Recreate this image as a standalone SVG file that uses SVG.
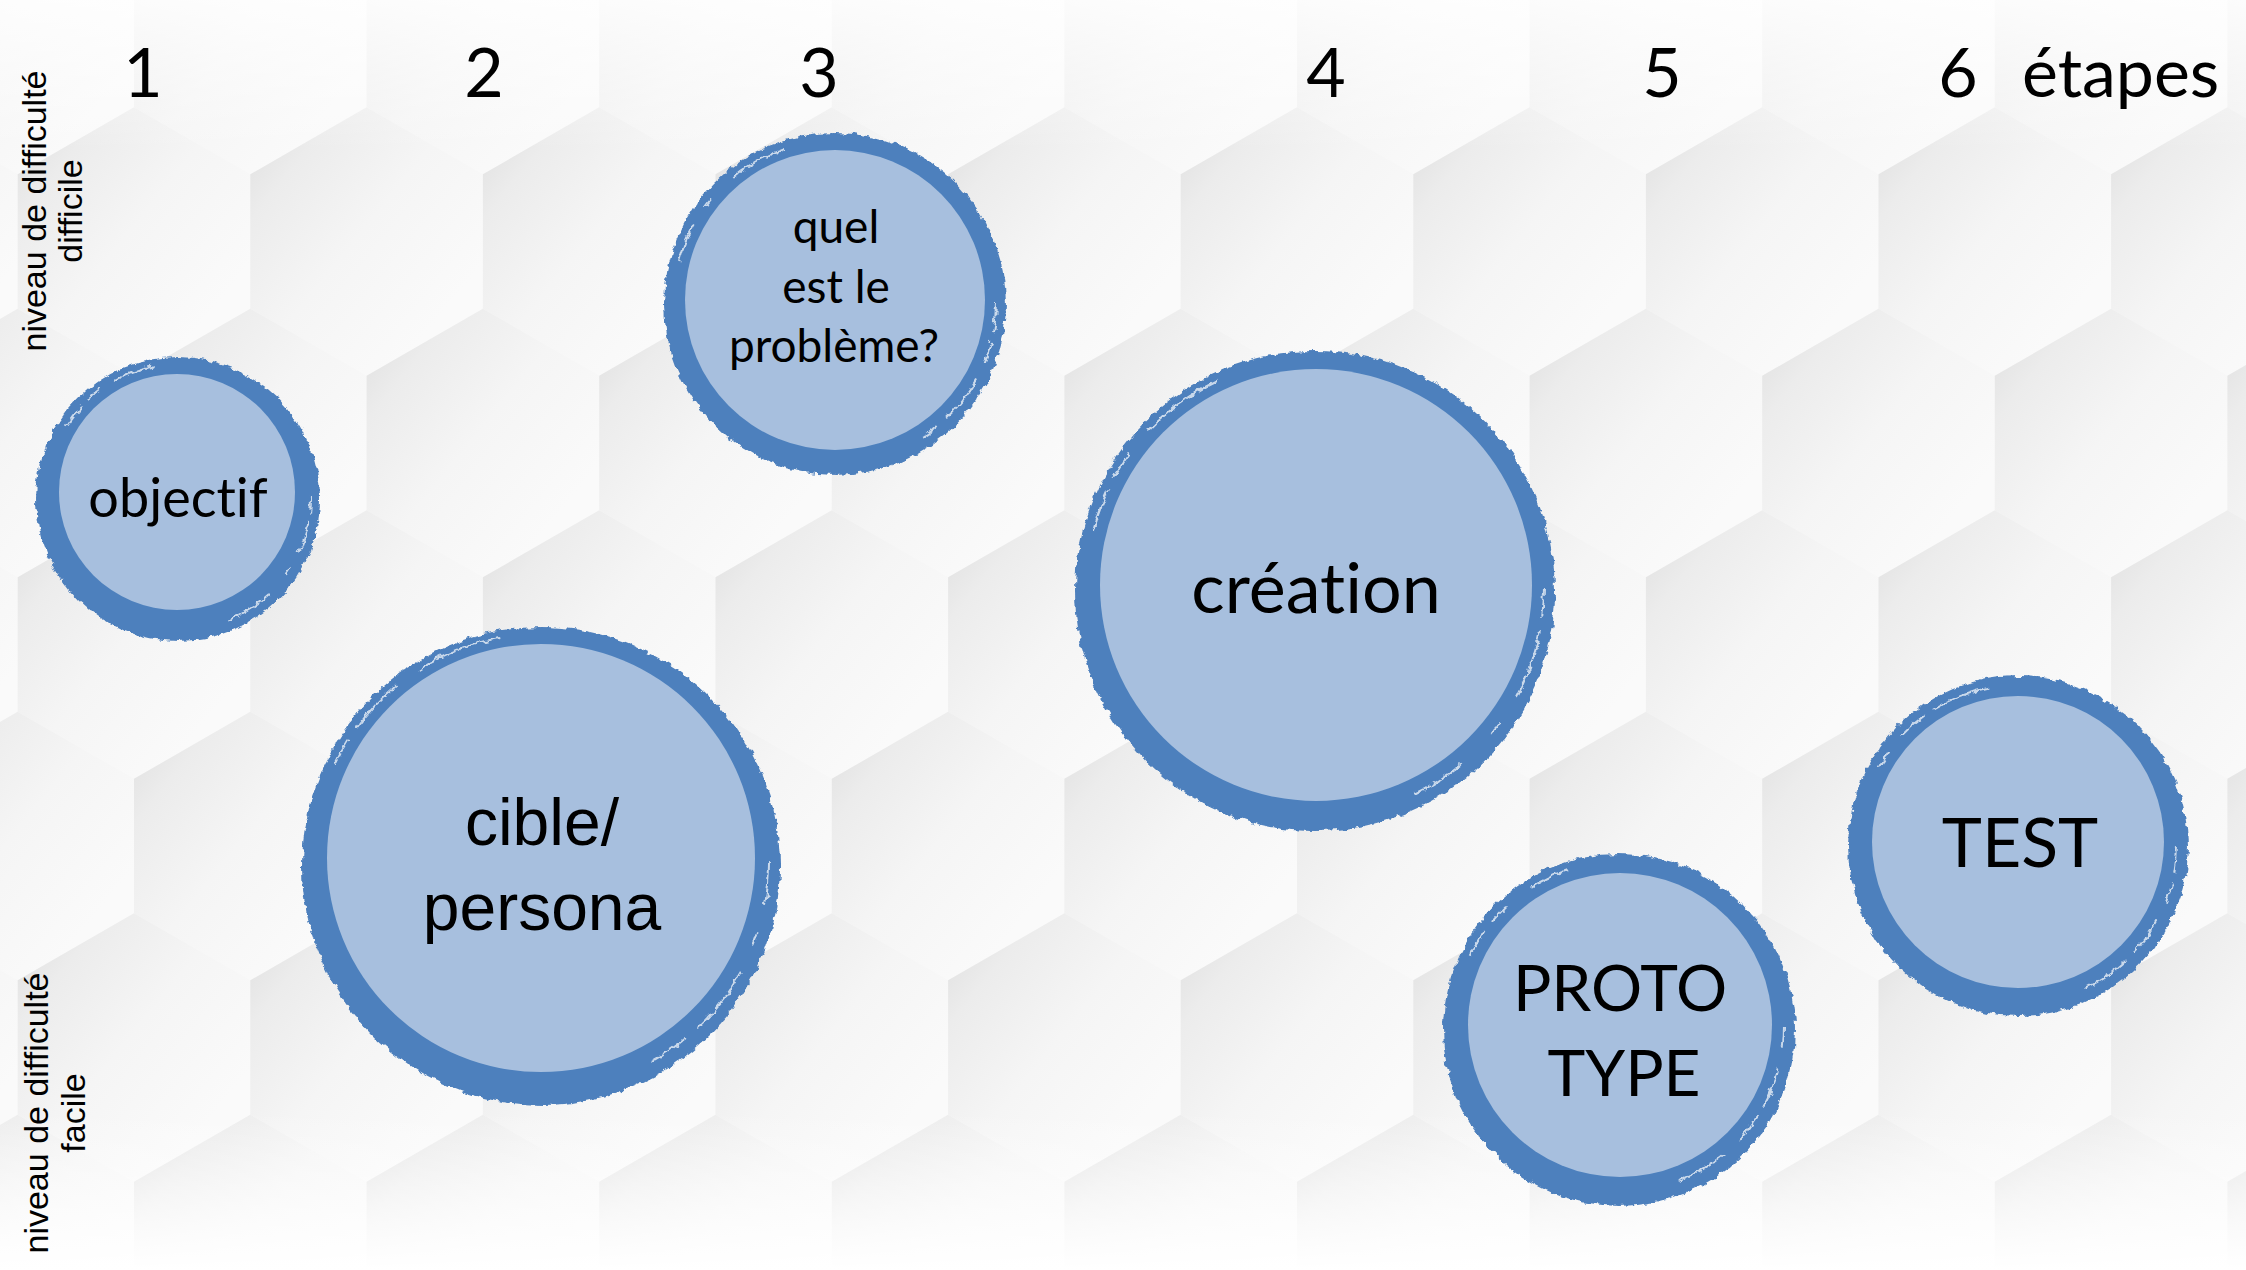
<svg xmlns="http://www.w3.org/2000/svg" xmlns:xlink="http://www.w3.org/1999/xlink" width="2246" height="1270" viewBox="0 0 2246 1270">
<defs>
<style>
.num{font-family:Lato,"Open Sans","Liberation Sans",sans-serif;font-size:68px;fill:#000;text-anchor:middle}
.vlab{font-family:"Liberation Sans",Arial,sans-serif;font-size:34px;fill:#000;text-anchor:middle}
.lbl{font-family:Lato,"Open Sans","Liberation Sans",sans-serif;fill:#000;text-anchor:middle;font-variant-ligatures:none}
.lbl2{font-family:"Liberation Sans",Arial,sans-serif;fill:#000;text-anchor:middle}
.ring{fill:#4E80BD}
.inner{fill:#A7BFDE}
.streak{fill:none;stroke:#ffffff;stroke-opacity:0.7;stroke-width:2}
.hx{fill:url(#hg)}
</style>
<linearGradient id="hg" x1="0" y1="0.15" x2="0.75" y2="0.85">
<stop offset="0" stop-color="#e2e2e2"/>
<stop offset="0.18" stop-color="#ececec"/>
<stop offset="0.55" stop-color="#f5f5f5"/>
<stop offset="1" stop-color="#fafafa"/>
</linearGradient>
<linearGradient id="topfade" x1="0" y1="0" x2="0" y2="1">
<stop offset="0" stop-color="#ffffff" stop-opacity="0.85"/>
<stop offset="1" stop-color="#ffffff" stop-opacity="0"/>
</linearGradient>
<linearGradient id="botfade" x1="0" y1="0" x2="0" y2="1">
<stop offset="0" stop-color="#ffffff" stop-opacity="0"/>
<stop offset="1" stop-color="#ffffff" stop-opacity="1"/>
</linearGradient>
<path id="hex" d="M0,-134.3 L116.3,-67.15 L116.3,67.15 L0,134.3 L-116.3,67.15 L-116.3,-67.15Z"/>
<filter id="rough" x="-8%" y="-8%" width="116%" height="116%">
<feTurbulence type="fractalNoise" baseFrequency="0.12" numOctaves="3" seed="7" result="n"/>
<feDisplacementMap in="SourceGraphic" in2="n" scale="7" xChannelSelector="R" yChannelSelector="G"/>
</filter>
</defs>

<g id="background">
<rect x="0" y="0" width="2246" height="1270" fill="#f8f8f8"/>
<g id="hexgrid">
<use xlink:href="#hex" class="hx" x="17.7" y="40"/><use xlink:href="#hex" class="hx" x="250.3" y="40"/><use xlink:href="#hex" class="hx" x="482.9" y="40"/><use xlink:href="#hex" class="hx" x="715.5" y="40"/><use xlink:href="#hex" class="hx" x="948.1" y="40"/><use xlink:href="#hex" class="hx" x="1180.7" y="40"/><use xlink:href="#hex" class="hx" x="1413.3" y="40"/><use xlink:href="#hex" class="hx" x="1645.9" y="40"/><use xlink:href="#hex" class="hx" x="1878.5" y="40"/><use xlink:href="#hex" class="hx" x="2111.1" y="40"/><use xlink:href="#hex" class="hx" x="2343.7" y="40"/>
<use xlink:href="#hex" class="hx" x="-98.6" y="241.5"/><use xlink:href="#hex" class="hx" x="134" y="241.5"/><use xlink:href="#hex" class="hx" x="366.6" y="241.5"/><use xlink:href="#hex" class="hx" x="599.2" y="241.5"/><use xlink:href="#hex" class="hx" x="831.8" y="241.5"/><use xlink:href="#hex" class="hx" x="1064.4" y="241.5"/><use xlink:href="#hex" class="hx" x="1297" y="241.5"/><use xlink:href="#hex" class="hx" x="1529.6" y="241.5"/><use xlink:href="#hex" class="hx" x="1762.2" y="241.5"/><use xlink:href="#hex" class="hx" x="1994.8" y="241.5"/><use xlink:href="#hex" class="hx" x="2227.4" y="241.5"/>
<use xlink:href="#hex" class="hx" x="17.7" y="443"/><use xlink:href="#hex" class="hx" x="250.3" y="443"/><use xlink:href="#hex" class="hx" x="482.9" y="443"/><use xlink:href="#hex" class="hx" x="715.5" y="443"/><use xlink:href="#hex" class="hx" x="948.1" y="443"/><use xlink:href="#hex" class="hx" x="1180.7" y="443"/><use xlink:href="#hex" class="hx" x="1413.3" y="443"/><use xlink:href="#hex" class="hx" x="1645.9" y="443"/><use xlink:href="#hex" class="hx" x="1878.5" y="443"/><use xlink:href="#hex" class="hx" x="2111.1" y="443"/><use xlink:href="#hex" class="hx" x="2343.7" y="443"/>
<use xlink:href="#hex" class="hx" x="-98.6" y="644.5"/><use xlink:href="#hex" class="hx" x="134" y="644.5"/><use xlink:href="#hex" class="hx" x="366.6" y="644.5"/><use xlink:href="#hex" class="hx" x="599.2" y="644.5"/><use xlink:href="#hex" class="hx" x="831.8" y="644.5"/><use xlink:href="#hex" class="hx" x="1064.4" y="644.5"/><use xlink:href="#hex" class="hx" x="1297" y="644.5"/><use xlink:href="#hex" class="hx" x="1529.6" y="644.5"/><use xlink:href="#hex" class="hx" x="1762.2" y="644.5"/><use xlink:href="#hex" class="hx" x="1994.8" y="644.5"/><use xlink:href="#hex" class="hx" x="2227.4" y="644.5"/>
<use xlink:href="#hex" class="hx" x="17.7" y="846"/><use xlink:href="#hex" class="hx" x="250.3" y="846"/><use xlink:href="#hex" class="hx" x="482.9" y="846"/><use xlink:href="#hex" class="hx" x="715.5" y="846"/><use xlink:href="#hex" class="hx" x="948.1" y="846"/><use xlink:href="#hex" class="hx" x="1180.7" y="846"/><use xlink:href="#hex" class="hx" x="1413.3" y="846"/><use xlink:href="#hex" class="hx" x="1645.9" y="846"/><use xlink:href="#hex" class="hx" x="1878.5" y="846"/><use xlink:href="#hex" class="hx" x="2111.1" y="846"/><use xlink:href="#hex" class="hx" x="2343.7" y="846"/>
<use xlink:href="#hex" class="hx" x="-98.6" y="1047.5"/><use xlink:href="#hex" class="hx" x="134" y="1047.5"/><use xlink:href="#hex" class="hx" x="366.6" y="1047.5"/><use xlink:href="#hex" class="hx" x="599.2" y="1047.5"/><use xlink:href="#hex" class="hx" x="831.8" y="1047.5"/><use xlink:href="#hex" class="hx" x="1064.4" y="1047.5"/><use xlink:href="#hex" class="hx" x="1297" y="1047.5"/><use xlink:href="#hex" class="hx" x="1529.6" y="1047.5"/><use xlink:href="#hex" class="hx" x="1762.2" y="1047.5"/><use xlink:href="#hex" class="hx" x="1994.8" y="1047.5"/><use xlink:href="#hex" class="hx" x="2227.4" y="1047.5"/>
<use xlink:href="#hex" class="hx" x="17.7" y="1249"/><use xlink:href="#hex" class="hx" x="250.3" y="1249"/><use xlink:href="#hex" class="hx" x="482.9" y="1249"/><use xlink:href="#hex" class="hx" x="715.5" y="1249"/><use xlink:href="#hex" class="hx" x="948.1" y="1249"/><use xlink:href="#hex" class="hx" x="1180.7" y="1249"/><use xlink:href="#hex" class="hx" x="1413.3" y="1249"/><use xlink:href="#hex" class="hx" x="1645.9" y="1249"/><use xlink:href="#hex" class="hx" x="1878.5" y="1249"/><use xlink:href="#hex" class="hx" x="2111.1" y="1249"/><use xlink:href="#hex" class="hx" x="2343.7" y="1249"/>
</g>
<rect x="0" y="0" width="2246" height="150" fill="url(#topfade)"/>
<rect x="0" y="1110" width="2246" height="160" fill="url(#botfade)"/>
</g>

<g id="axis-labels">
<text class="num" x="143" y="97">1</text>
<text class="num" x="484" y="97">2</text>
<text class="num" x="819" y="97">3</text>
<text class="num" x="1326" y="97">4</text>
<text class="num" x="1662" y="97">5</text>
<text class="num" x="1958" y="97">6</text>
<text class="num" x="2022" y="97" style="text-anchor:start">étapes</text>
<text class="vlab" transform="translate(46,211) rotate(-90)">niveau de difficulté</text>
<text class="vlab" transform="translate(82,211) rotate(-90)">difficile</text>
<text class="vlab" transform="translate(48,1113) rotate(-90)">niveau de difficulté</text>
<text class="vlab" transform="translate(85,1113) rotate(-90)">facile</text>
</g>

<g id="node-objectif">
<circle class="ring" cx="178" cy="499" r="142" filter="url(#rough)"/>
<circle class="streak" cx="178" cy="497" r="133" pathLength="100" stroke-dasharray="2 1 4 2 1 3 6 40 3 1 2 2 5 28" filter="url(#rough)"/>
<circle class="inner" cx="177" cy="492" r="118"/>
<text class="lbl" x="178" y="517" font-size="54">objectif</text>
</g>

<g id="node-probleme">
<circle class="ring" cx="835" cy="304" r="171" filter="url(#rough)"/>
<circle class="streak" cx="835" cy="302" r="161" pathLength="100" stroke-dasharray="3 1 2 2 5 1 2 38 4 2 1 3 6 30" filter="url(#rough)"/>
<circle class="inner" cx="835" cy="300" r="150"/>
<text class="lbl" font-size="46" x="836" y="243">quel</text>
<text class="lbl" font-size="46" x="836" y="303">est le</text>
<text class="lbl" font-size="46" x="834" y="362">problème?</text>
</g>

<g id="node-creation">
<circle class="ring" cx="1315" cy="591" r="240" filter="url(#rough)"/>
<circle class="streak" cx="1315" cy="588" r="229" pathLength="100" stroke-dasharray="2 1 5 2 1 3 4 36 3 1 2 2 6 32" filter="url(#rough)"/>
<circle class="inner" cx="1316" cy="585" r="216"/>
<text class="lbl" font-size="70" x="1316" y="613">création</text>
</g>

<g id="node-cible">
<circle class="ring" cx="541" cy="866" r="239" filter="url(#rough)"/>
<circle class="streak" cx="541" cy="862" r="228" pathLength="100" stroke-dasharray="3 2 1 2 5 1 3 40 2 1 4 2 6 28" filter="url(#rough)"/>
<circle class="inner" cx="541" cy="858" r="214"/>
<text class="lbl2" font-size="66" x="542" y="845">cible/</text>
<text class="lbl2" font-size="66" x="542" y="930">persona</text>
</g>

<g id="node-prototype">
<circle class="ring" cx="1619" cy="1030" r="176" filter="url(#rough)"/>
<circle class="streak" cx="1619" cy="1027" r="165" pathLength="100" stroke-dasharray="2 2 4 1 3 2 5 38 3 1 2 3 4 30" filter="url(#rough)"/>
<circle class="inner" cx="1620" cy="1025" r="152"/>
<text class="lbl" font-size="64" x="1620" y="1011">PROTO</text>
<text class="lbl" font-size="64" x="1624" y="1096">TYPE</text>
</g>

<g id="node-test">
<circle class="ring" cx="2018" cy="846" r="170" filter="url(#rough)"/>
<circle class="streak" cx="2018" cy="844" r="159" pathLength="100" stroke-dasharray="3 1 2 2 4 1 5 40 2 2 3 1 6 28" filter="url(#rough)"/>
<circle class="inner" cx="2018" cy="842" r="146"/>
<text class="lbl" font-size="68" x="2020" y="867">TEST</text>
</g>
</svg>
